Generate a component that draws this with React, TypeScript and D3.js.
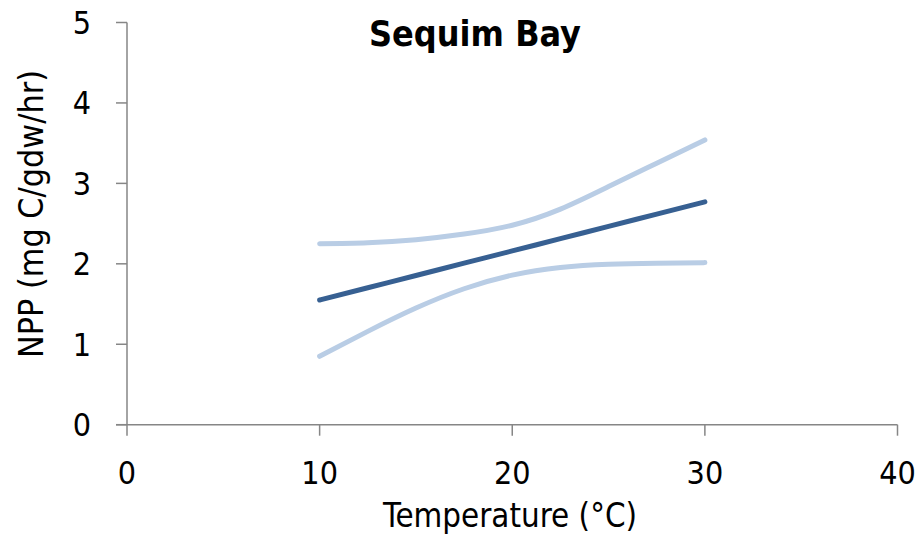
import React from "react";
import * as d3 from "d3";

const temps = [10, 12.5, 15, 17.5, 20, 22.5, 25, 27.5, 30];
const fitted = [1.55, 1.703, 1.855, 2.008, 2.16, 2.313, 2.465, 2.618, 2.77];
const upper = [2.25, 2.262, 2.3, 2.37, 2.48, 2.68, 2.96, 3.25, 3.54];
const lower = [0.85, 1.16, 1.45, 1.69, 1.86, 1.955, 1.995, 2.008, 2.015];
const xTicks = [0, 10, 20, 30, 40];
const yTicks = [0, 1, 2, 3, 4, 5];
const title = "Sequim Bay";
const xTitle = "Temperature (°C)";
const yTitle = "NPP (mg C/gdw/hr)";

const W = 917, H = 540;
const FONT = "'DejaVu Sans Condensed', 'Liberation Sans Narrow', sans-serif";

export default function App() {
  const x = d3.scaleLinear().domain([0, 40]).range([127, 897.5]);
  const y = d3.scaleLinear().domain([0, 5]).range([424.7, 22.5]);
  const line = (vals: number[]) =>
    d3.line<number>().x((_, i) => x(temps[i])).y((v) => y(v)).curve(d3.curveNatural)(vals) || "";
  const axisColor = "#868686";
  return (
    <svg width={W} height={H} style={{ position: "absolute", left: 0, top: 0, background: "#fff" }}>
      <g fontFamily={FONT} fill="#000">
        <line x1={x(0)} x2={x(0)} y1={y(5)} y2={y(0)} stroke={axisColor} strokeWidth={1.5} />
        <line x1={x(0) - 11} x2={x(40)} y1={y(0)} y2={y(0)} stroke={axisColor} strokeWidth={1.5} />
        {yTicks.map((t) => (
          <g key={"y" + t}>
            <line x1={x(0) - 11} x2={x(0)} y1={y(t)} y2={y(t)} stroke={axisColor} strokeWidth={1.5} />
            <text x={91} y={y(t)} dy="0.36em" textAnchor="end" fontSize={32}>{t}</text>
          </g>
        ))}
        {xTicks.map((t) => (
          <g key={"x" + t}>
            <line x1={x(t)} x2={x(t)} y1={y(0)} y2={y(0) + 11} stroke={axisColor} strokeWidth={1.5} />
            <text x={x(t)} y={484} textAnchor="middle" fontSize={32}>{t}</text>
          </g>
        ))}
        <path d={line(upper)} fill="none" stroke="#B9CDE5" strokeWidth={5} strokeLinecap="round" />
        <path d={line(lower)} fill="none" stroke="#B9CDE5" strokeWidth={5} strokeLinecap="round" />
        <path d={line(fitted)} fill="none" stroke="#376092" strokeWidth={5} strokeLinecap="round" />
        <text x={475} y={46} textAnchor="middle" fontSize={36} fontWeight="bold" textLength={212} lengthAdjust="spacingAndGlyphs">{title}</text>
        <text x={510} y={527} textAnchor="middle" fontSize={33} textLength={254} lengthAdjust="spacingAndGlyphs">{xTitle}</text>
        <text transform={`translate(43,214) rotate(-90)`} textAnchor="middle" fontSize={33} textLength={288} lengthAdjust="spacingAndGlyphs">{yTitle}</text>
      </g>
    </svg>
  );
}
